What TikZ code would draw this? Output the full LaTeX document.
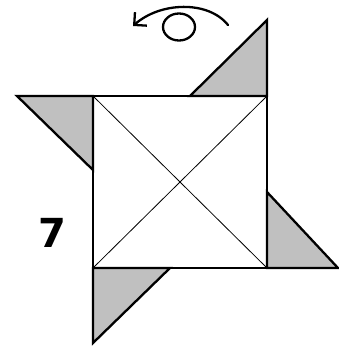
\documentclass[tikz,border=0pt]{standalone}
\usetikzlibrary{arrows.meta,positioning}
\usepackage{fontspec}
\newfontfamily\stepfont{DejaVu Sans}
\definecolor{flapgray}{HTML}{C0C0C0}
\tikzset{
  sheet/.style={draw=black, line width=1.6pt, inner sep=0pt, outer sep=0pt, minimum width=174pt, minimum height=172pt},
  crease/.style={draw=black, line width=0.8pt},
  flap/.style={draw=black, fill=flapgray, line width=2.3pt, line join=miter},
  turn/.style={draw=black, line width=2.3pt, line cap=round},
  steplabel/.style={font=\stepfont\bfseries\fontsize{40}{40}\selectfont, inner sep=0pt}
}
\begin{document}
\begin{tikzpicture}[x=1pt, y=-1pt]
  \useasboundingbox (0,0) rectangle (338,347);

  % the folded square
  \node[sheet] (sq) at (180,182) {};

  % diagonal creases
  \draw[crease] (sq.north west) -- (sq.south east);
  \draw[crease] (sq.north east) -- (sq.south west);

  % gray flaps on the four sides
  \draw[flap] (sq.north east) -- ++(0,-76) -- ++(-77,76) -- cycle;
  \draw[flap] (sq.north west) -- ++(-76,0) -- ++(76,74) -- cycle;
  \draw[flap] (sq.south east) -- ++(71,0) -- ++(-71,-76) -- cycle;
  \draw[flap] (sq.south west) -- ++(0,75) -- ++(77,-75) -- cycle;

  % step number
  \node[steplabel] (num) at (52,233) {7};

  % turn-over symbol
  \coordinate (turnR) at (228,25);
  \coordinate (turnL) at (133,26);
  \coordinate (loop) at (179,27);
  \draw[turn, -{Straight Barb[length=9pt, width=18pt, line width=2.3pt]}] (turnR) .. controls (208,0) and (160,2) .. (turnL);
  \draw[turn] (loop) circle [x radius=16, y radius=13.5];
\end{tikzpicture}
\end{document}
